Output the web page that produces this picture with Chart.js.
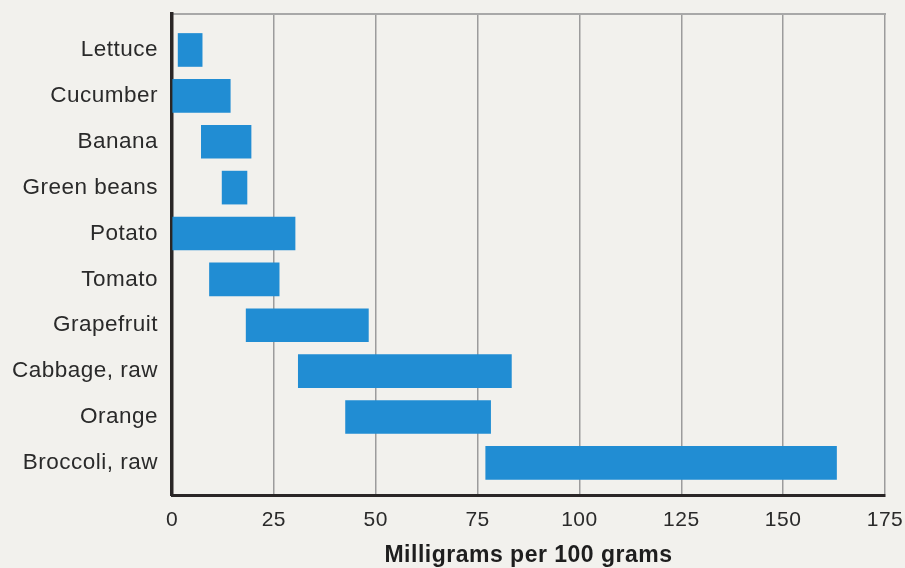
<!DOCTYPE html>
<html>
<head>
<meta charset="utf-8">
<script src="https://cdn.jsdelivr.net/npm/chart.js@4/dist/chart.umd.min.js"></script>
<style>
  html, body { margin: 0; padding: 0; background: #f2f1ed; }
  #wrap { width: 905px; height: 568px; }
</style>
</head>
<body>
<div id="wrap"><canvas id="c" width="905" height="568"></canvas></div>
<script>
const categories = ["Lettuce", "Cucumber", "Banana", "Green beans", "Potato", "Tomato", "Grapefruit", "Cabbage, raw", "Orange", "Broccoli, raw"];
const lowValues  = [1.5, 0, 7.2, 12.3, 0, 9.2, 18.2, 31, 42.6, 77];
const highValues = [7.4, 14.3, 19.4, 18.4, 30.2, 26.3, 48.2, 83.3, 78.2, 163.1];
const xMin = 0, xMax = 175, xStep = 25;
const xTitle = "Milligrams per 100 grams";

const FONT = "'Liberation Sans', Arial, Helvetica, sans-serif";

const bg = {
  id: 'bg',
  beforeLayout(chart) { chart.ctx.letterSpacing = '0.5px'; },
  beforeDraw(chart) {
    const ctx = chart.ctx;
    ctx.letterSpacing = '0.5px';
    ctx.save();
    ctx.fillStyle = '#f2f1ed';
    ctx.fillRect(0, 0, chart.width, chart.height);
    ctx.restore();
  }
};

new Chart(document.getElementById('c'), {
  type: 'bar',
  data: {
    datasets: [{
      data: categories.map((c, i) => ({ x: [lowValues[i], highValues[i]], y: i })),
      backgroundColor: 'rgb(33,141,211)',
      borderWidth: 0,
      barThickness: 33
    }]
  },
  options: {
    indexAxis: 'y',
    responsive: false,
    animation: false,
    layout: { padding: 0 },
    plugins: { legend: { display: false }, tooltip: { enabled: false } },
    scales: {
      x: {
        type: 'linear',
        position: 'bottom',
        min: xMin, max: xMax,
        ticks: { stepSize: xStep, color: '#2a2a2a', font: { family: FONT, size: 21 }, padding: 13 },
        grid: { color: '#9c9c9c', lineWidth: 1.5, drawTicks: false },
        border: { color: '#2a2626', width: 3 },
        title: { display: true, text: xTitle, color: '#1e1e1e', font: { family: FONT, size: 23, weight: 'bold', lineHeight: 1.0 }, padding: { top: 0, bottom: 1 } },
        afterFit(s) { s.height = 73; s.paddingLeft = 0; s.paddingRight = 20; }
      },
      x2: {
        type: 'linear',
        position: 'top',
        min: xMin, max: xMax,
        ticks: { display: false },
        grid: { display: false, drawTicks: false },
        border: { color: '#a8a8a8', width: 2 },
        afterFit(s) { s.height = 14; s.paddingLeft = 0; s.paddingRight = 20; }
      },
      y: {
        type: 'linear',
        reverse: true,
        offset: false,
        min: -0.784, max: 9.70,
        afterBuildTicks(s) { s.ticks = categories.map((c, i) => ({ value: i })); },
        ticks: {
          color: '#2a2a2a',
          font: { family: FONT, size: 22.5 },
          padding: 14,
          callback: (v) => categories[v] ?? ''
        },
        grid: { display: false, drawTicks: false },
        border: { color: '#2a2626', width: 3.5 },
        afterFit(s) { s.width = 172; s.paddingTop = 0; s.paddingBottom = 0; }
      }
    }
  },
  plugins: [bg]
});
</script>
</body>
</html>
